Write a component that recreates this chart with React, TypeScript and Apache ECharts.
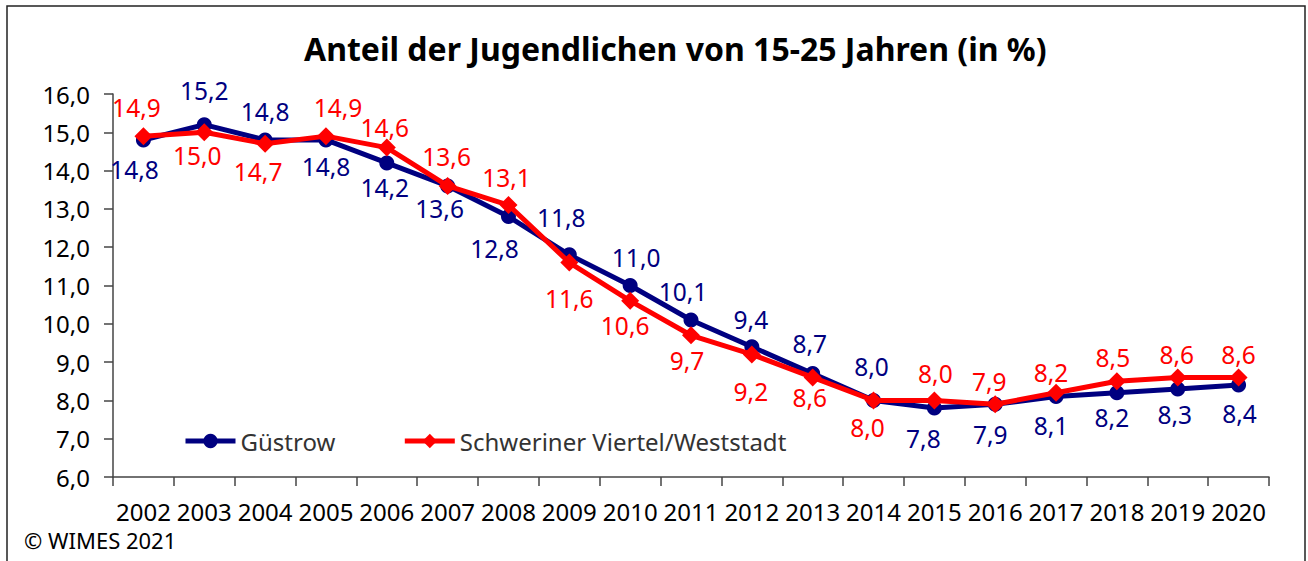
import React, { useEffect, useRef } from "react";
import * as echarts from "echarts";

const years = ["2002","2003","2004","2005","2006","2007","2008","2009","2010","2011","2012","2013","2014","2015","2016","2017","2018","2019","2020"];
const guestrow = [14.8, 15.2, 14.8, 14.8, 14.2, 13.6, 12.8, 11.8, 11.0, 10.1, 9.4, 8.7, 8.0, 7.8, 7.9, 8.1, 8.2, 8.3, 8.4];
const schweriner = [14.9, 15.0, 14.7, 14.9, 14.6, 13.6, 13.1, 11.6, 10.6, 9.7, 9.2, 8.6, 8.0, 8.0, 7.9, 8.2, 8.5, 8.6, 8.6];
const seriesNames = ["Güstrow", "Schweriner Viertel/Weststadt"];
const titleText = "Anteil der Jugendlichen von 15-25 Jahren (in %)";
const copyright = "© WIMES 2021";

// label placement offsets (style only)
const gOff = [[-9,30],[0,-34],[0,-28],[0,27],[-2,25],[-8,23],[-14,32],[-8,-37],[6,-28],[-8,-28],[-1,-27],[-3,-30],[-2,-34],[-11,30],[-5,30],[-5,29],[-5,25],[-3,26],[1,28]];
const sOff = [[-7,-29],[-7,23],[-7,28],[12,-29],[-2,-20],[-1,-29],[-2,-28],[0,36],[-5,25],[-4,25],[-1,37],[-3,20],[-6,27],[1,-27],[-6,-23],[-5,-20],[-4,-24],[-1,-23],[0,-23]];

const FONT = "'Noto Sans', sans-serif";
const fmt = (v: number) => v.toFixed(1).replace(".", ",");

export default function App() {
  const ref = useRef<HTMLDivElement>(null);
  useEffect(() => {
    document.body.style.margin = "0";
    const chart = echarts.init(ref.current!, null, { renderer: "svg" });
    const mk = (vals: number[], offs: number[][], color: string) =>
      vals.map((v, i) => ({
        value: v,
        label: { show: true, position: "inside", offset: offs[i], color, fontSize: 24.5, fontFamily: FONT, formatter: (p: any) => fmt(p.value) },
      }));
    chart.setOption({
      animation: false,
      backgroundColor: "#fff",
      title: {
        text: titleText,
        left: 299,
        top: 27,
        textStyle: { fontFamily: FONT, fontWeight: "bold", fontSize: 32, color: "#000" },
      },
      grid: { left: 113, right: 39, top: 94, bottom: 84 },
      legend: {
        left: 178,
        top: 424,
        itemWidth: 50,
        itemHeight: 18,
        itemGap: 67,
        lineStyle: { width: 5 },
        textStyle: { fontFamily: FONT, fontSize: 24, color: "#333" },
        data: seriesNames,
      },
      xAxis: {
        type: "category",
        data: years,
        boundaryGap: true,
        axisLine: { lineStyle: { color: "#444", width: 1.5 } },
        axisTick: { show: true, length: 9, alignWithLabel: false, lineStyle: { color: "#444", width: 1.5 } },
        axisLabel: { interval: 0, color: "#000", fontFamily: FONT, fontSize: 24, lineHeight: 24, margin: 22 },
      },
      yAxis: {
        type: "value",
        min: 6,
        max: 16,
        interval: 1,
        axisLine: { show: true, lineStyle: { color: "#444", width: 1.5 } },
        axisTick: { show: true, length: 9, lineStyle: { color: "#444", width: 1.5 } },
        splitLine: { show: false },
        axisLabel: { color: "#000", fontFamily: FONT, fontSize: 24, margin: 23, formatter: (v: number) => fmt(v) },
      },
      series: [
        {
          name: seriesNames[0],
          type: "line",
          data: mk(guestrow, gOff, "#000080"),
          symbol: "circle",
          symbolSize: 15,
          lineStyle: { color: "#000080", width: 5 },
          itemStyle: { color: "#000080" },
          z: 2,
        },
        {
          name: seriesNames[1],
          type: "line",
          data: mk(schweriner, sOff, "#ff0000"),
          symbol: "diamond",
          symbolSize: 18,
          lineStyle: { color: "#ff0000", width: 5 },
          itemStyle: { color: "#ff0000" },
          z: 3,
        },
      ],
      graphic: [
        {
          type: "rect",
          shape: { x: 7, y: 6, width: 1298, height: 620 },
          style: { fill: "none", stroke: "#222", lineWidth: 1.5 },
          silent: true,
        },
        {
          type: "text",
          left: 24,
          top: 529,
          style: { text: copyright, font: `22px ${FONT}`, fill: "#000" },
        },
      ],
    });
    return () => chart.dispose();
  }, []);
  return <div ref={ref} style={{ width: 1308, height: 561 }} />;
}
